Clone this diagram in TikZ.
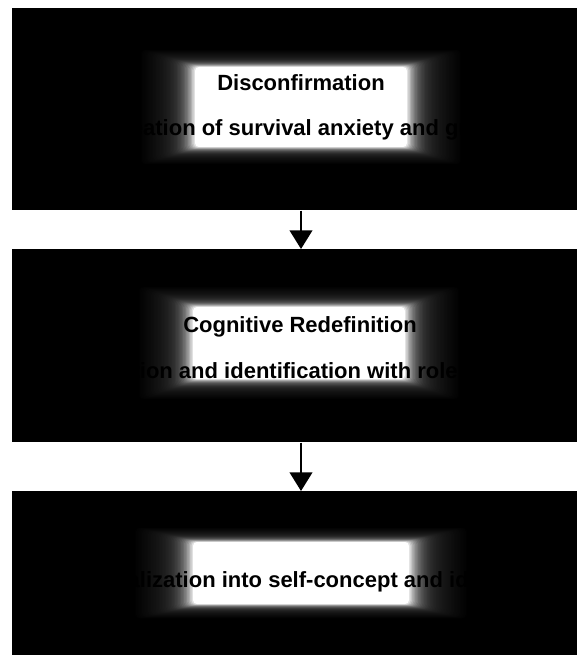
\documentclass[tikz,border=0pt]{standalone}
\usepackage{fontspec}
\setmainfont{Liberation Sans}
\usetikzlibrary{positioning,calc}
\usetikzlibrary{arrows.meta}

% soft white glow behind the captions:
% centre x, centre y, core half width, core half height, fade x, fade y
\newcommand\glowbox[6]{%
   \foreach \k in {0,...,40}{
      \pgfmathsetmacro\f{1-\k/40}
      \pgfmathsetmacro\b{100*(0.2*(1-\f)+0.8*(1-\f)^6)}
      \fill[white!\b!black, rounded corners=3pt]
         (#1-#3-#5*\f, #2-#4-#6*\f) rectangle (#1+#3+#5*\f, #2+#4+#6*\f);
   }%
}

\begin{document}
\begin{tikzpicture}[x=0.75pt, y=-0.75pt,
         stage/.style = {fill=black, draw=none, inner sep=0pt, anchor=north west},
         caption/.style = {font=\bfseries\fontsize{16.5}{18}\selectfont,
         text=black, anchor=base, inner sep=0pt},
         flow/.style = {line width=1.5pt, -{Triangle[length=14pt,width=17pt]}}]

   \useasboundingbox (0,0) rectangle (577,655);

   % the three stages
   \node[stage, minimum width=423.75pt, minimum height=151.5pt]  (box1) at (12,8)   {};
   \node[stage, minimum width=423.75pt, minimum height=144.75pt] (box2) at (12,249) {};
   \node[stage, minimum width=423.75pt, minimum height=123pt]    (box3) at (12,491) {};

   % glows
   \glowbox{301}{107}{106}{40}{56}{18}
   \glowbox{299}{343}{106}{36}{56}{21}
   \glowbox{301}{573}{108}{31}{60}{15}

   % captions
   \node[caption] (t1a) at (301,91)  {Disconfirmation};
   \node[caption] (t1b) at (299,136) {Creation of survival anxiety and guilt};

   \node[caption] (t2a) at (300,332) {Cognitive Redefinition};
   \node[caption] (t2b) at (311,378) {Imitation and identification with role models};

   \node[caption] (t3a) at (297,587) {Internalization into self-concept and identity};

   % arrows
   \draw[flow] (t1a |- box1.south) -- (t1a |- box2.north);
   \draw[flow] (t1a |- box2.south) -- (t1a |- box3.north);

\end{tikzpicture}
\end{document}
